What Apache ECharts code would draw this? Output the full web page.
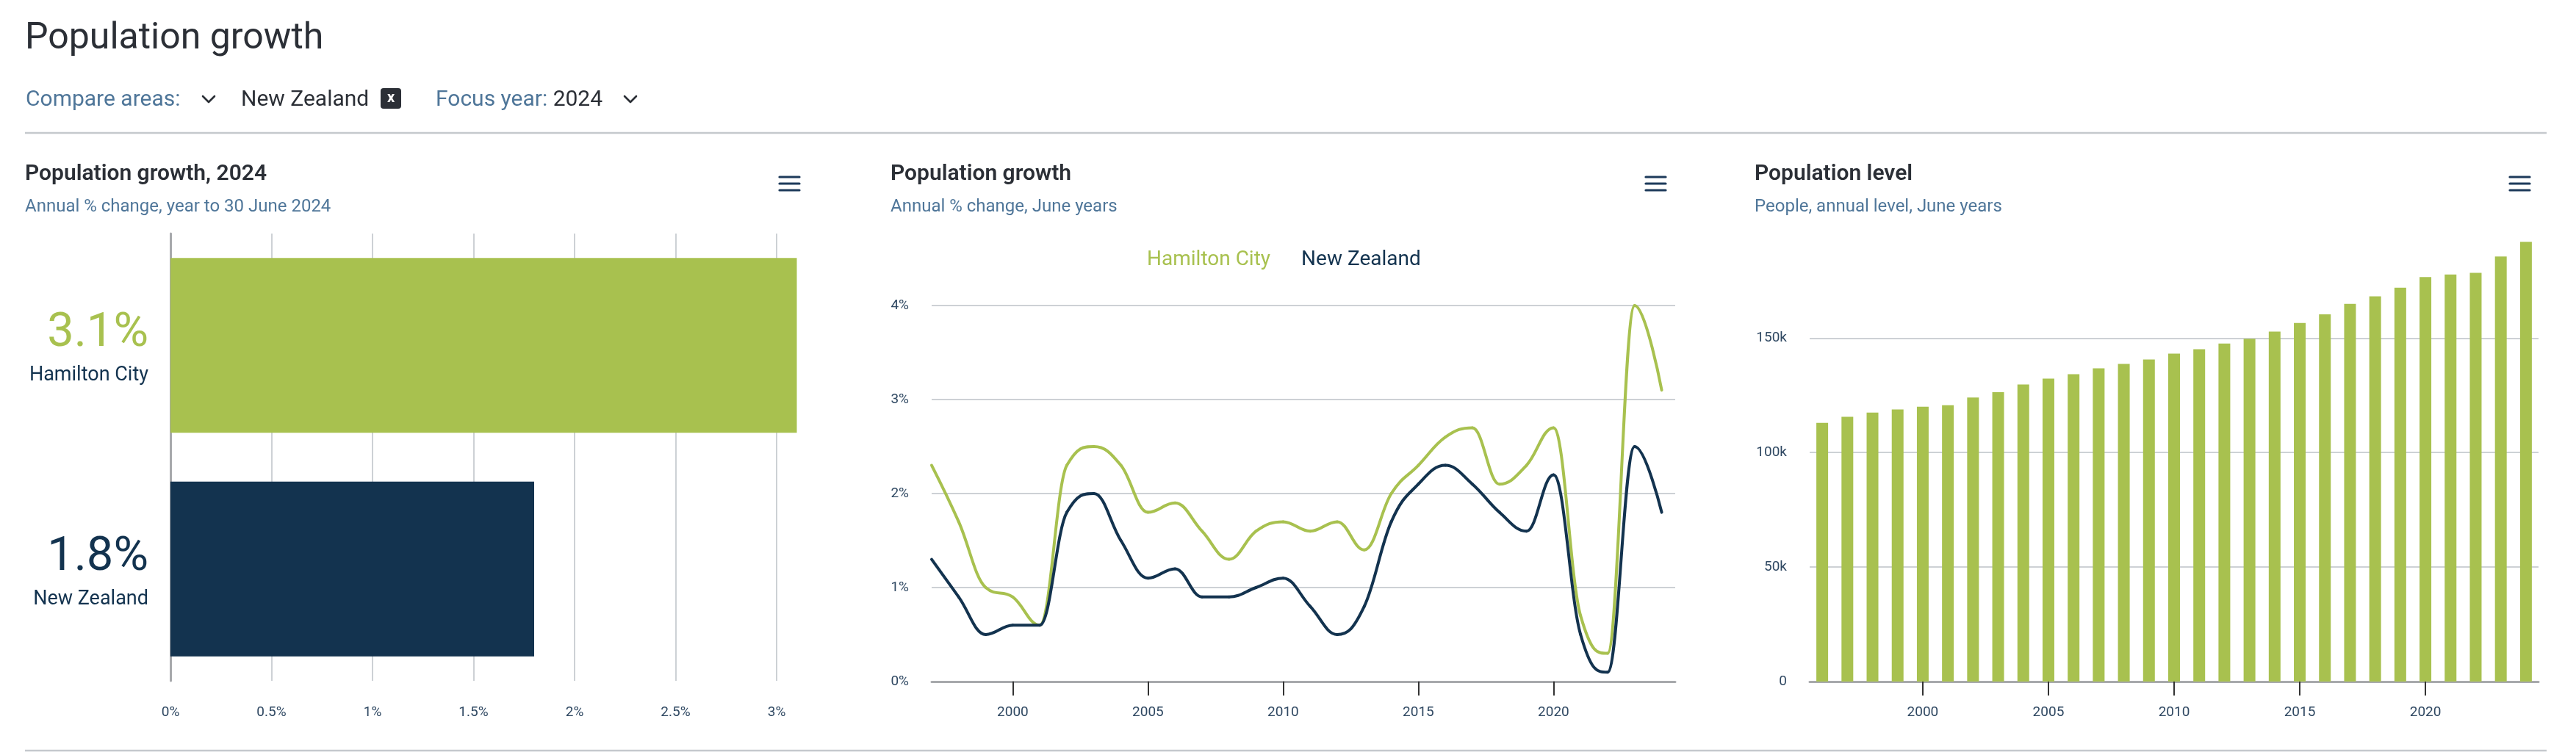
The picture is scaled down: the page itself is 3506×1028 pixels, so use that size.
<!DOCTYPE html>
<html>
<head>
<meta charset="utf-8">
<script src="https://cdn.jsdelivr.net/npm/echarts@6/dist/echarts.min.js"></script>
<style>
html,body{margin:0;padding:0;background:#ffffff;}
#chart{width:3506px;height:1028px;}
</style>
</head>
<body>
<div id="chart"></div>
<script>
// ---------- DATA ----------
const areaNames = ['Hamilton City', 'New Zealand'];
const growthFocusYear = [3.1, 1.8];               // % change, year to 30 June 2024
const growthAxisTicks = ['0%', '0.5%', '1%', '1.5%', '2%', '2.5%', '3%'];

const growthYears = [1997, 1998, 1999, 2000, 2001, 2002, 2003, 2004, 2005, 2006, 2007, 2008, 2009, 2010,
                     2011, 2012, 2013, 2014, 2015, 2016, 2017, 2018, 2019, 2020, 2021, 2022, 2023, 2024];
const hamiltonGrowth = [2.3, 1.7, 1.0, 0.9, 0.6, 2.3, 2.5, 2.3, 1.8, 1.9, 1.6, 1.3, 1.6, 1.7,
                        1.6, 1.7, 1.4, 2.0, 2.3, 2.6, 2.7, 2.1, 2.3, 2.7, 0.7, 0.3, 4.0, 3.1];
const nzGrowth       = [1.3, 0.9, 0.5, 0.6, 0.6, 1.8, 2.0, 1.5, 1.1, 1.2, 0.9, 0.9, 1.0, 1.1,
                        0.8, 0.5, 0.8, 1.7, 2.1, 2.3, 2.1, 1.8, 1.6, 2.2, 0.5, 0.1, 2.5, 1.8];
const yearTickLabels = [2000, 2005, 2010, 2015, 2020];

const levelYears = ['1996','1997','1998','1999','2000','2001','2002','2003','2004','2005','2006','2007','2008','2009',
                    '2010','2011','2012','2013','2014','2015','2016','2017','2018','2019','2020','2021','2022','2023','2024'];
const hamiltonLevel = [113000, 115600, 117500, 118800, 120000, 120700, 124000, 126400, 129700, 132300, 134200, 136800, 138700, 140600,
                       143200, 145100, 147600, 149700, 152800, 156600, 160400, 164900, 168200, 172000, 176600, 177800, 178500, 185600, 192000];
const levelTickLabels = ['0', '50k', '100k', '150k'];

// ---------- STYLE ----------
const GREEN = '#a8c14f';
const NAVY = '#13334f';
const DARK = '#2b2f36';
const BLUEGREY = '#4f7699';
const LABEL = '#2f4862';
const GRID = '#cdd1d5';
const AXIS = '#a7a9ac';
const FONT = 'Roboto, "Noto Sans", sans-serif';

function txt(x, y, text, size, color, weight, align, rich) {
  const style = { text: text, fontSize: size, fontFamily: FONT, fontWeight: weight || 'normal',
                  fill: color, verticalAlign: 'middle', align: align || 'left' };
  if (rich) style.rich = rich;
  return { type: 'text', x: x, y: y, silent: true, style: style };
}
function hline(x1, x2, y, color, w) {
  return { type: 'line', silent: true, shape: { x1: x1, y1: y, x2: x2, y2: y },
           style: { stroke: color, lineWidth: w } };
}
function chevron(x, y) {
  return { type: 'polyline', silent: true, shape: { points: [[x, y], [x + 8, y + 8], [x + 16, y]] },
           style: { stroke: DARK, lineWidth: 2.6, fill: null, lineCap: 'round', lineJoin: 'round' } };
}
function burger(x) {
  return [241, 250, 259].map(y => ({ type: 'line', silent: true,
    shape: { x1: x, y1: y, x2: x + 27, y2: y },
    style: { stroke: '#1d3a5a', lineWidth: 3.2, lineCap: 'round' } }));
}

// Highcharts-style spline control points (in pixel space)
function splineControls(pts) {
  const s = 1.5, d = s + 1;
  return pts.map((p, i) => {
    const c = { lx: p[0], ly: p[1], rx: p[0], ry: p[1] };
    if (i === 0 || i === pts.length - 1) return c;
    const [px, py] = p, [lastX, lastY] = pts[i - 1], [nextX, nextY] = pts[i + 1];
    let lx = (s * px + lastX) / d, ly = (s * py + lastY) / d;
    let rx = (s * px + nextX) / d, ry = (s * py + nextY) / d;
    let corr = 0;
    if (rx !== lx) corr = ((ry - ly) * (rx - px)) / (rx - lx) + py - ry;
    ly += corr; ry += corr;
    if (ly > lastY && ly > py) { ly = Math.max(lastY, py); ry = 2 * py - ly; }
    else if (ly < lastY && ly < py) { ly = Math.min(lastY, py); ry = 2 * py - ly; }
    if (ry > nextY && ry > py) { ry = Math.max(nextY, py); ly = 2 * py - ry; }
    else if (ry < nextY && ry < py) { ry = Math.min(nextY, py); ly = 2 * py - ry; }
    c.lx = lx; c.ly = ly; c.rx = rx; c.ry = ry;
    return c;
  });
}
function splineSeries(name, values, color) {
  return {
    type: 'custom', name: name, xAxisIndex: 1, yAxisIndex: 1,
    data: growthYears.map((y, i) => [y, values[i]]),
    encode: { x: 0, y: 1 },
    renderItem: function (params, api) {
      const i = params.dataIndex;
      if (i >= values.length - 1) return null;
      const pts = growthYears.map((y, k) => api.coord([y, values[k]]));
      const c = splineControls(pts);
      return {
        type: 'bezierCurve',
        shape: { x1: pts[i][0], y1: pts[i][1], cpx1: c[i].rx, cpy1: c[i].ry,
                 cpx2: c[i + 1].lx, cpy2: c[i + 1].ly, x2: pts[i + 1][0], y2: pts[i + 1][1] },
        style: { stroke: color, lineWidth: 4, fill: null, lineCap: 'round' }
      };
    }
  };
}

const axisLabelBase = { color: LABEL, fontSize: 19, fontFamily: FONT };

const chart = echarts.init(document.getElementById('chart'), null, { renderer: 'canvas' });
chart.setOption({
  animation: false,
  backgroundColor: '#ffffff',
  textStyle: { fontFamily: FONT },
  grid: [
    { left: 232, top: 318, width: 852.5, height: 609, containLabel: false, outerBoundsMode: 'none' },
    { left: 1268, top: 416, width: 1012, height: 512, containLabel: false, outerBoundsMode: 'none' },
    { left: 2463, top: 320, width: 992, height: 608, containLabel: false, outerBoundsMode: 'none' }
  ],
  legend: {
    show: true, left: 1556, top: 340, padding: 0, itemGap: 37, itemWidth: 0, itemHeight: 0,
    icon: 'rect', selectedMode: false,
    textStyle: { fontSize: 28, fontFamily: FONT },
    data: [
      { name: areaNames[0], textStyle: { color: GREEN } },
      { name: areaNames[1], textStyle: { color: NAVY } }
    ]
  },
  xAxis: [
    { gridIndex: 0, type: 'value', min: 0, max: 3.1, interval: 0.5, position: 'bottom',
      axisLine: { show: false }, axisTick: { show: false },
      splitLine: { show: true, showMaxLine: false, lineStyle: { color: GRID, width: 2 } },
      axisLabel: Object.assign({}, axisLabelBase, { margin: 34, showMaxLabel: false,
        formatter: v => { const k = Math.round(v * 2); return Math.abs(v * 2 - k) < 1e-6 && growthAxisTicks[k] ? growthAxisTicks[k] : ''; } }) },
    { gridIndex: 1, type: 'value', min: 1997, max: 2024.5,
      axisLine: { show: true, onZero: false, lineStyle: { color: AXIS, width: 3 } },
      axisTick: { show: true, customValues: yearTickLabels, length: 19, lineStyle: { color: '#333', width: 2 } },
      splitLine: { show: false },
      axisLabel: Object.assign({}, axisLabelBase, { margin: 33, customValues: yearTickLabels, formatter: v => String(v) }) },
    { gridIndex: 2, type: 'category', data: levelYears, boundaryGap: true,
      axisLine: { show: true, lineStyle: { color: AXIS, width: 3 } },
      axisTick: { show: true, alignWithLabel: true, interval: (i, v) => Number(v) % 5 === 0, length: 19,
                  lineStyle: { color: '#333', width: 2 } },
      splitLine: { show: false },
      axisLabel: Object.assign({}, axisLabelBase, { margin: 33, interval: (i, v) => Number(v) % 5 === 0 }) }
  ],
  yAxis: [
    { gridIndex: 0, type: 'category', data: areaNames, inverse: true,
      axisLine: { show: true, lineStyle: { color: AXIS, width: 3 } },
      axisTick: { show: false }, splitLine: { show: false },
      axisLabel: {
        margin: 30, align: 'right', padding: 0,
        formatter: (value, idx) => `{v${idx}|${growthFocusYear[idx]}%}\n{n|${value}}`,
        rich: {
          v0: { fontSize: 65, color: GREEN, lineHeight: 82, fontFamily: FONT, align: 'right' },
          v1: { fontSize: 65, color: NAVY, lineHeight: 82, fontFamily: FONT, align: 'right' },
          n: { fontSize: 27, color: NAVY, lineHeight: 31, fontFamily: FONT, align: 'right' }
        }
      } },
    { gridIndex: 1, type: 'value', min: 0, max: 4, interval: 1,
      axisLine: { show: false }, axisTick: { show: false },
      splitLine: { show: true, lineStyle: { color: GRID, width: 2 } },
      axisLabel: Object.assign({}, axisLabelBase, { margin: 31, formatter: '{value}%' }) },
    { gridIndex: 2, type: 'value', min: 0, max: 195000, interval: 50000,
      axisLine: { show: false }, axisTick: { show: false },
      splitLine: { show: true, showMaxLine: false, lineStyle: { color: GRID, width: 2 } },
      axisLabel: Object.assign({}, axisLabelBase, { margin: 31, showMaxLabel: false,
        formatter: v => (v % 50000 === 0 && levelTickLabels[v / 50000]) ? levelTickLabels[v / 50000] : '' }) }
  ],
  series: [
    { type: 'bar', name: 'Growth 2024', xAxisIndex: 0, yAxisIndex: 0, barWidth: 238,
      data: growthFocusYear.map((v, i) => ({ value: v, itemStyle: { color: i === 0 ? GREEN : NAVY } })) },
    splineSeries(areaNames[0], hamiltonGrowth, GREEN),
    splineSeries(areaNames[1], nzGrowth, NAVY),
    { type: 'bar', name: 'Population level', xAxisIndex: 2, yAxisIndex: 2, barWidth: 16,
      itemStyle: { color: GREEN }, data: hamiltonLevel }
  ],
  graphic: [].concat(
    [
      txt(34, 53, 'Population growth', 50, DARK),
      txt(35, 136, 'Compare areas:', 30, BLUEGREY),
      chevron(276, 131),
      txt(328, 136, 'New Zealand', 30, DARK),
      { type: 'rect', silent: true, shape: { x: 518, y: 120, width: 28, height: 28, r: 4 }, style: { fill: DARK } },
      txt(532, 134, 'x', 20, '#ffffff', 'bold', 'center'),
      txt(593, 136, '{a|Focus year: }{b|2024}', 30, BLUEGREY, 'normal', 'left', {
        a: { fontSize: 30, fontFamily: FONT, fill: BLUEGREY },
        b: { fontSize: 30, fontFamily: FONT, fill: DARK }
      }),
      chevron(850, 131),
      hline(34, 3466, 181, '#c5c9cd', 2.5),
      hline(34, 3466, 1022, '#c5c9cd', 2.5),
      txt(34, 237, 'Population growth, 2024', 30, DARK, 600),
      txt(34, 282, 'Annual % change, year to 30 June 2024', 24, BLUEGREY),
      txt(1212, 237, 'Population growth', 30, DARK, 600),
      txt(1212, 282, 'Annual % change, June years', 24, BLUEGREY),
      txt(2388, 237, 'Population level', 30, DARK, 600),
      txt(2388, 282, 'People, annual level, June years', 24, BLUEGREY)
    ],
    burger(1061), burger(2240), burger(3416)
  )
});
</script>
</body>
</html>
